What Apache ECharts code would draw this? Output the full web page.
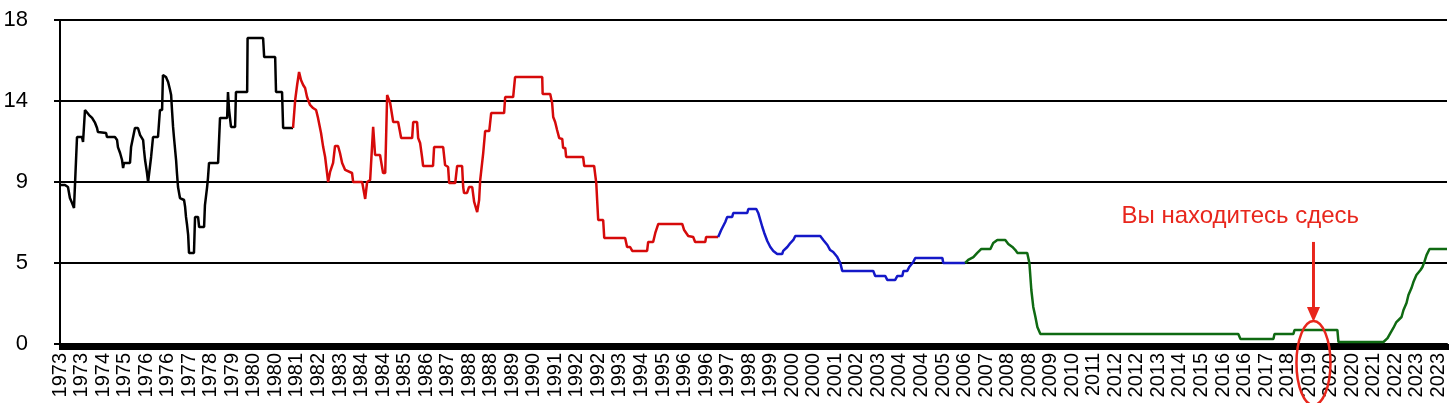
<!DOCTYPE html>
<html>
<head>
<meta charset="utf-8">
<script src="https://cdn.jsdelivr.net/npm/echarts@6/dist/echarts.min.js"></script>
<style>
  html, body { margin: 0; padding: 0; background: #fff; }
  #myChart { width: 1456px; height: 403px; }
</style>
</head>
<body>
<div id="myChart"></div>
<script>
// подписи оси X (по одной на каждый шаг оси)
const yearLabels = ['1973','1973','1974','1975','1976','1976','1977','1978','1979','1980','1980','1981','1982','1983','1984','1984',
  '1985','1986','1987','1988','1988','1989','1990','1991','1992','1992','1993','1994','1995','1996','1996','1997','1998','1999',
  '2000','2000','2001','2002','2003','2004','2004','2005','2006','2007','2008','2008','2009','2010','2011','2012','2012','2013',
  '2014','2015','2016','2016','2017','2018','2019','2020','2020','2021','2022','2023','2023'];

// [позиция по оси X в шагах подписи, ставка]
const blackLine = [[0,8.83],[0.23,8.83],[0.37,8.72],[0.46,8.11],[0.56,7.83],[0.65,7.56],[0.7,7.56],[0.79,11.5],[1.02,11.5],[1.07,11.22],
  [1.16,13.0],[1.25,13.0],[1.35,12.72],[1.49,12.56],[1.53,12.5],[1.63,12.28],[1.72,12.0],[1.76,11.78],[2.14,11.72],[2.18,11.5],
  [2.55,11.5],[2.65,11.33],[2.69,10.94],[2.79,10.61],[2.88,10.22],[2.93,9.78],[2.97,10.06],[3.25,10.06],[3.3,10.94],[3.39,10.94],
  [3.48,12.0],[3.62,12.0],[3.72,11.61],[3.86,11.33],[3.9,10.78],[3.95,10.22],[4.04,9.5],[4.09,9.0],[4.18,9.0],[4.23,10.39],
  [4.32,11.5],[4.55,11.5],[4.64,13.0],[4.74,13.0],[4.78,14.94],[4.92,14.83],[5.02,14.56],[5.11,14.11],[5.16,13.83],[5.2,13.0],
  [5.25,12.06],[5.29,11.5],[5.39,10.22],[5.43,9.5],[5.48,8.72],[5.57,8.11],[5.76,8.0],[5.81,7.61],[5.85,7.06],[5.9,6.61],
  [5.95,6.06],[5.99,5.06],[6.22,5.06],[6.27,7.06],[6.41,7.06],[6.46,6.5],[6.69,6.5],[6.73,7.72],[6.83,8.72],[6.87,9.22],
  [6.92,10.06],[7.34,10.06],[7.43,12.56],[7.76,12.56],[7.8,14.0],[7.85,13.0],[7.9,13.0],[7.94,12.06],[8.13,12.06],[8.17,14.0],
  [8.69,14.0],[8.71,17.0],[9.43,17.0],[9.48,15.94],[9.99,15.94],[10.03,14.0],[10.31,14.0],[10.36,12.0],[10.82,12.0]];

const redLine = [[10.82,12.0],[10.92,13.56],[11.01,14.39],[11.1,15.11],[11.19,14.67],[11.29,14.39],[11.38,14.22],[11.47,13.72],
  [11.61,13.28],[11.75,13.11],[11.89,13.0],[11.98,12.56],[12.12,11.72],[12.22,10.94],[12.31,10.39],[12.45,9.0],[12.54,9.56],
  [12.68,10.06],[12.77,11.0],[12.91,11.0],[13.0,10.61],[13.1,10.06],[13.24,9.67],[13.33,9.56],[13.56,9.5],[13.61,9.0],[14.03,9.0],
  [14.17,8.06],[14.26,9.0],[14.4,9.11],[14.54,12.06],[14.63,10.5],[14.86,10.5],[15.0,9.5],[15.1,9.5],[15.19,13.83],[15.33,13.39],
  [15.47,12.33],[15.7,12.33],[15.84,11.44],[16.35,11.44],[16.4,12.33],[16.58,12.33],[16.63,11.44],[16.72,11.17],[16.81,10.39],
  [16.86,9.89],[17.32,9.89],[17.37,10.94],[17.79,10.94],[17.88,9.94],[18.02,9.83],[18.07,8.94],[18.35,8.94],[18.44,9.89],
  [18.67,9.89],[18.72,8.72],[18.76,8.39],[18.9,8.39],[18.99,8.72],[19.14,8.72],[19.23,7.89],[19.37,7.33],[19.46,8.0],[19.51,9.11],
  [19.65,10.61],[19.74,11.83],[19.93,11.83],[20.02,12.83],[20.62,12.83],[20.67,13.72],[21.04,13.72],[21.13,14.83],[22.39,14.83],
  [22.41,13.89],[22.76,13.89],[22.85,13.39],[22.9,12.61],[22.99,12.33],[23.08,11.89],[23.18,11.44],[23.32,11.39],[23.36,10.89],
  [23.46,10.89],[23.5,10.39],[24.29,10.39],[24.34,9.89],[24.8,9.89],[24.9,8.94],[24.94,8.0],[24.99,6.89],[25.22,6.89],[25.27,5.89],
  [26.24,5.89],[26.33,5.39],[26.47,5.39],[26.57,5.17],[27.26,5.17],[27.31,5.67],[27.54,5.67],[27.64,6.17],[27.78,6.67],[28.89,6.67],
  [28.98,6.33],[29.17,6.0],[29.4,5.94],[29.49,5.67],[29.96,5.67],[30.0,5.94],[30.56,5.94]];

const blueLine = [[30.56,5.94],[30.7,6.33],[30.89,6.78],[30.98,7.06],[31.21,7.06],[31.26,7.28],[31.91,7.28],[31.96,7.5],[32.33,7.5],
  [32.42,7.28],[32.61,6.5],[32.7,6.17],[32.84,5.72],[32.98,5.39],[33.12,5.17],[33.3,5.0],[33.53,5.0],[33.58,5.17],[33.77,5.39],
  [33.91,5.61],[34.05,5.78],[34.14,6.0],[35.3,6.0],[35.44,5.78],[35.63,5.5],[35.76,5.22],[35.9,5.11],[36.09,4.83],[36.23,4.5],
  [36.32,4.06],[37.76,4.06],[37.85,3.78],[38.32,3.78],[38.41,3.56],[38.78,3.56],[38.88,3.78],[39.11,3.78],[39.16,4.06],[39.34,4.06],
  [39.43,4.28],[39.62,4.56],[39.71,4.78],[40.97,4.78],[41.01,4.5],[42.03,4.5]];

const greenLine = [[42.03,4.5],[42.17,4.67],[42.41,4.83],[42.59,5.06],[42.78,5.28],[43.2,5.28],[43.33,5.61],[43.52,5.78],[43.89,5.78],
  [44.03,5.56],[44.22,5.39],[44.36,5.22],[44.45,5.06],[44.91,5.06],[45.01,4.5],[45.1,3.0],[45.19,2.06],[45.29,1.5],[45.38,0.94],
  [45.52,0.56],[54.71,0.56],[54.81,0.28],[56.34,0.28],[56.39,0.56],[57.27,0.56],[57.32,0.78],[59.31,0.78],[59.36,0.11],[61.45,0.11],
  [61.64,0.33],[61.77,0.61],[61.91,0.89],[62.05,1.22],[62.29,1.5],[62.38,1.89],[62.52,2.28],[62.61,2.72],[62.75,3.11],[62.84,3.44],
  [62.98,3.83],[63.17,4.11],[63.26,4.28],[63.35,4.56],[63.45,4.94],[63.59,5.28],[64.4,5.28]];

// пометка "вы находитесь здесь" (в координатах осей)
const noteText = 'Вы находитесь сдесь';
const notePos = [54.8, 7.1];
const arrowX = 58.2;
const arrowFrom = 5.67;
const arrowTo = 1.22;
const ringCenter = [58.2, -1.06];

function lineSeries(name, color, data) {
  return {
    name: name,
    type: 'line',
    data: data,
    showSymbol: false,
    lineStyle: {color: color, width: 2.5},
    animation: false
  };
}

let myChart = echarts.init(document.getElementById('myChart'));

let option = {
  backgroundColor: '#fff',
  animation: false,
  grid: {left: 60, right: 9, top: 20, bottom: 59},
  xAxis: {
    type: 'value',
    min: 0,
    max: 64.4,
    interval: 1,
    axisLine: {show: true, lineStyle: {color: '#000', width: 2}},
    axisTick: {show: true, length: 6, lineStyle: {color: '#000', width: 3}},
    minorTick: {show: true, splitNumber: 10, length: 6, lineStyle: {color: '#000', width: 3}},
    splitLine: {show: false},
    axisLabel: {
      rotate: 90,
      margin: 9,
      color: '#000',
      fontFamily: 'Arial, "Liberation Sans", sans-serif',
      fontSize: 20,
      showMaxLabel: false,
      formatter: function (v) {
        return Number.isInteger(v) ? (yearLabels[v] || '') : '';
      }
    }
  },
  yAxis: {
    type: 'value',
    min: 0,
    max: 18,
    interval: 4.5,
    axisLine: {show: true, lineStyle: {color: '#000', width: 2}},
    axisTick: {show: true, length: 6, lineStyle: {color: '#000', width: 2}},
    splitLine: {show: true, lineStyle: {color: '#000', width: 2}},
    axisLabel: {
      margin: 32,
      color: '#000',
      fontFamily: 'Arial, "Liberation Sans", sans-serif',
      fontSize: 22,
      formatter: function (v) { return String(Math.round(v)); }
    }
  },
  series: [
    lineSeries('black', '#000000', blackLine),
    lineSeries('red', '#d60a0a', redLine),
    lineSeries('blue', '#1418c8', blueLine),
    lineSeries('green', '#0f6a12', greenLine)
  ]
};

myChart.setOption(option);

// аннотация: текст, стрелка, овал
let red = '#e8261c';
let t = myChart.convertToPixel({gridIndex: 0}, notePos);
let a0 = myChart.convertToPixel({gridIndex: 0}, [arrowX, arrowFrom]);
let a1 = myChart.convertToPixel({gridIndex: 0}, [arrowX, arrowTo]);
let rc = myChart.convertToPixel({gridIndex: 0}, ringCenter);
let headLen = 15, headHalf = 6.5;

myChart.setOption({
  graphic: [
    {
      type: 'text',
      x: t[0], y: t[1],
      style: {text: noteText, fill: red, font: '24px Arial, "Liberation Sans", sans-serif', align: 'center', verticalAlign: 'middle'},
      z: 100
    },
    {
      type: 'line',
      shape: {x1: a0[0], y1: a0[1], x2: a1[0], y2: a1[1] - headLen + 1},
      style: {stroke: red, lineWidth: 3},
      z: 100
    },
    {
      type: 'polygon',
      shape: {points: [[a1[0] - headHalf, a1[1] - headLen], [a1[0] + headHalf, a1[1] - headLen], [a1[0], a1[1]]]},
      style: {fill: red},
      z: 100
    },
    {
      type: 'ellipse',
      shape: {cx: rc[0], cy: rc[1], rx: 17, ry: 42},
      style: {stroke: red, fill: null, lineWidth: 2.5},
      z: 100
    }
  ]
});
</script>
</body>
</html>
